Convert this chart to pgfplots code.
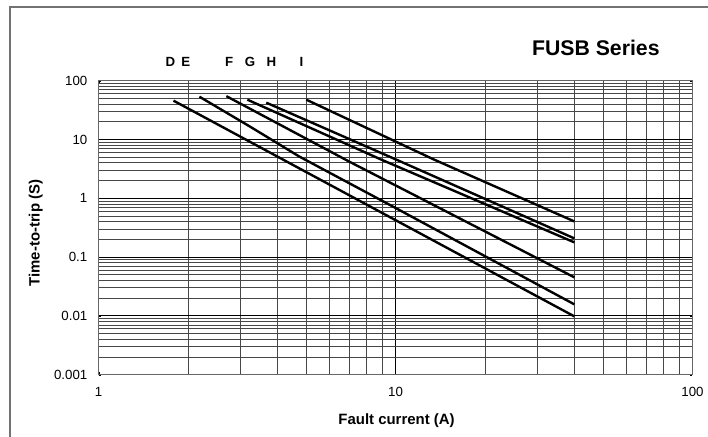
\documentclass[border=0pt]{standalone}
\usepackage{pgfplots}
\pgfplotsset{compat=1.18}
\usepackage{fontspec}
\setmainfont{Liberation Sans}
\begin{document}
\begin{tikzpicture}
\begin{scope}[x=0.75pt,y=-0.75pt]
\useasboundingbox (0,0) rectangle (708,438);
\draw[black!55, line width=0.9pt] (10,445) -- (10,7) -- (715,7);
\end{scope}
\begin{axis}[
  at={(74.25pt,-282pt)}, anchor=south west,
  scale only axis, width=447pt, height=221.25pt,
  xmode=log, ymode=log,
  xmin=1, xmax=100, ymin=0.001, ymax=100,
  xtick={1,10,100}, xticklabels={1,10,100},
  ytick={0.001,0.01,0.1,1,10,100}, yticklabels={0.001,0.01,0.1,1,10,100},
  minor xtick={2,3,4,5,6,7,8,9,20,30,40,50,60,70,80,90},
  minor ytick={0.002,0.003,0.004,0.005,0.006,0.007,0.008,0.009,0.02,0.03,0.04,0.05,0.06,0.07,0.08,0.09,0.2,0.3,0.4,0.5,0.6,0.7,0.8,0.9,2,3,4,5,6,7,8,9,20,30,40,50,60,70,80,90},
  grid=both,
  major grid style={black, line width=0.65pt},
  minor grid style={black!72, line width=0.6pt},
  axis line style={black!60, line width=0.75pt},
  major tick length=2pt, minor tick length=0pt,
  tick style={black},
  every tick label/.append style={font=\fontsize{10}{12}\selectfont},
  /pgf/number format/assume math mode=true,
  xticklabel style={yshift=-6pt},
  yticklabel style={xshift=-5pt},
  clip=false,
]
\addplot[black, line width=1.8pt, mark=none] coordinates {(1.787,45.8) (40,0.0098)};
\addplot[black, line width=1.8pt, mark=none] coordinates {(2.185,53.5) (3.22,16.8) (4.74,5.13) (10,0.684) (40,0.0157)};
\addplot[black, line width=1.8pt, mark=none] coordinates {(2.693,54.6) (6.98,4.21) (40,0.0452)};
\addplot[black, line width=1.8pt, mark=none] coordinates {(3.168,47.6) (8.94,4.56) (40,0.178)};
\addplot[black, line width=1.8pt, mark=none] coordinates {(3.670,42.3) (10.04,4.56) (40,0.208)};
\addplot[black, line width=1.8pt, mark=none] coordinates {(5.003,47.6) (13.47,4.56) (40,0.404)};
\end{axis}
\begin{scope}[x=0.75pt,y=-0.75pt]
\node[font=\bfseries\fontsize{16}{19}\selectfont] at (598,48) {FUSB Series};
\node[font=\bfseries\fontsize{10}{12}\selectfont] at (171,62.5) {D};
\node[font=\bfseries\fontsize{10}{12}\selectfont] at (186.5,62.5) {E};
\node[font=\bfseries\fontsize{10}{12}\selectfont] at (230,62.5) {F};
\node[font=\bfseries\fontsize{10}{12}\selectfont] at (251,62.5) {G};
\node[font=\bfseries\fontsize{10}{12}\selectfont] at (272.5,62.5) {H};
\node[font=\bfseries\fontsize{10}{12}\selectfont] at (302.5,62.5) {I};
\node[rotate=90, font=\bfseries\fontsize{11.25}{13}\selectfont] at (36,234) {Time-to-trip (S)};
\node[font=\bfseries\fontsize{11.25}{13}\selectfont] at (398,422) {Fault current (A)};
\end{scope}
\end{tikzpicture}
\end{document}
